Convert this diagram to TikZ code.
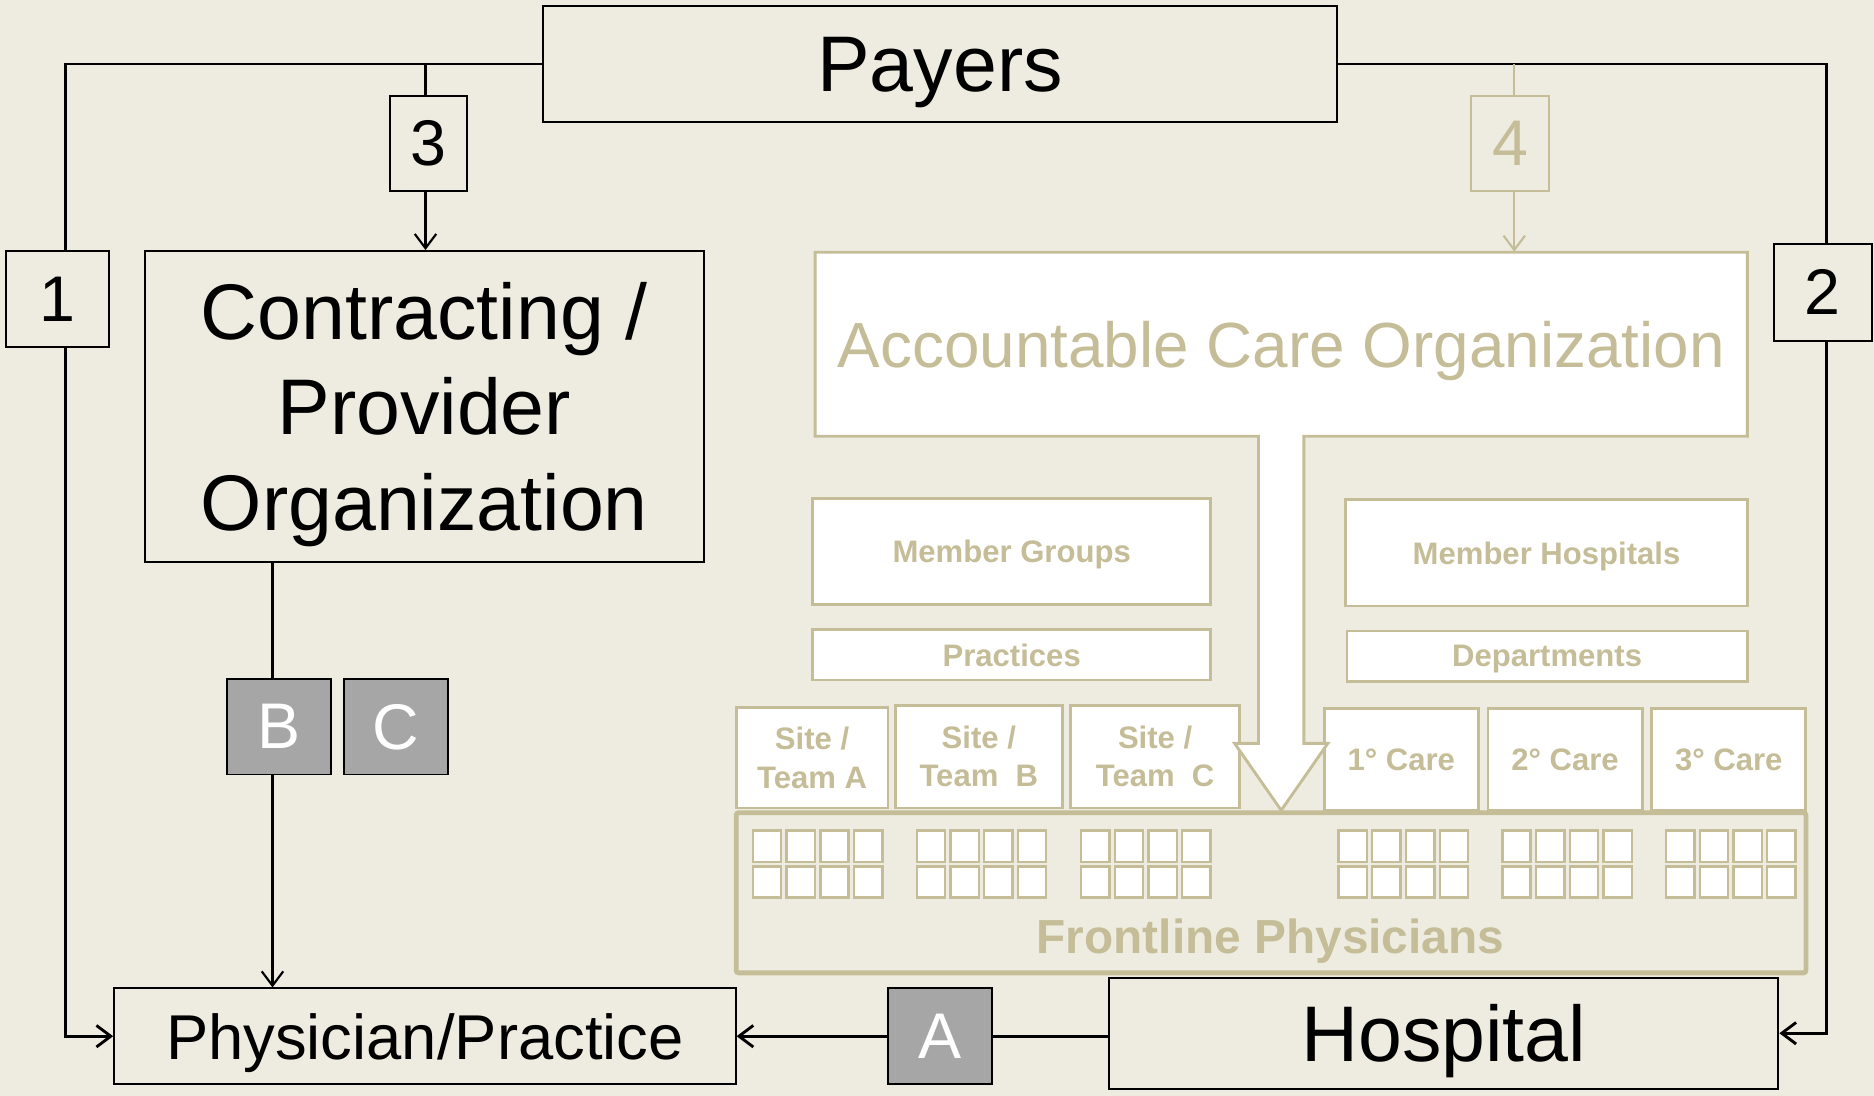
\documentclass[tikz,border=0pt]{standalone}
\usepackage{fontspec}
\setmainfont{Liberation Sans}
\usetikzlibrary{arrows.meta}
\definecolor{bg}{HTML}{EEECE1}
\definecolor{tan}{HTML}{C4BD97}
\definecolor{gr}{HTML}{A6A6A6}
\tikzset{
  every node/.style={text depth=0pt},
  bbox/.style={draw=black, line width=0.8pt, fill=bg, inner sep=0pt, align=center},
  numbox/.style={bbox, font=\fontsize{27}{30}\selectfont},
  letbox/.style={draw=black, line width=0.8pt, fill=gr, text=white, inner sep=0pt,
    font=\fontsize{27}{30}\selectfont, minimum width=43.5pt, minimum height=40pt},
  tanbox/.style={draw=tan, line width=1.2pt, fill=white, text=tan, inner sep=0pt,
    align=center, font=\bfseries\fontsize{13}{16}\selectfont},
  sitebox/.style={tanbox, minimum width=70pt, minimum height=43pt},
  carebox/.style={tanbox, minimum width=64.5pt, minimum height=42.5pt},
  sq/.style={draw=tan, line width=1pt, fill=white, minimum width=11.85pt,
    minimum height=13pt, inner sep=0pt},
  mainln/.style={line width=1.2pt},
  thinln/.style={line width=0.9pt},
  tip/.style={-{Straight Barb[length=6pt,width=9pt]}}
}
\begin{document}
\begin{tikzpicture}[x=0.5pt, y=-0.5pt]
\path[use as bounding box, fill=bg] (0,0) rectangle (1568,917);

% ACO frontline structure
\node[draw=tan, line width=2pt, fill=bg, minimum width=447.5pt, minimum height=67pt,
  rounded corners=1pt] (fl) at (1063.5,747) {};
\node[text=tan, font=\bfseries\fontsize{20}{24}\selectfont] (flt) at (1063,783) {Frontline Physicians};

\node[sitebox, minimum width=63.5pt, minimum height=42pt] (sa) at (679.5,634) {Site /\\Team A};
\node[sitebox] (sb) at (819,633) {Site /\\Team\ \ B};
\node[sitebox, minimum width=70.5pt] (sc) at (966.5,633) {Site /\\Team\ \ C};
\node[carebox] (c1n) at (1172.5,635.5) {1° Care};
\node[carebox] (c2n) at (1309.5,635.5) {2° Care};
\node[carebox] (c3n) at (1446.5,635.5) {3° Care};

\node[tanbox, minimum width=166.5pt, minimum height=44.5pt] (mg) at (846.5,461.5) {Member Groups};
\node[tanbox, minimum width=166.5pt, minimum height=21pt] (pr) at (846.5,548) {Practices};
\node[tanbox, minimum width=168pt, minimum height=44.5pt] (mh) at (1294,462.5) {Member Hospitals};
\node[tanbox, minimum width=167.5pt, minimum height=21pt] (dp) at (1294.5,549) {Departments};

\draw[tan, line width=1.2pt, fill=white, line join=miter]
  (1053,365) -- (682,365) -- (682,211) -- (1462,211) -- (1462,365) -- (1091,365)
  -- (1091,622) -- (1111,622) -- (1072,678) -- (1033,622) -- (1053,622) -- cycle;
\node[text=tan, minimum width=390pt, minimum height=77pt, inner sep=0pt,
  font=\fontsize{26.7}{30}\selectfont] (aco) at (1072,288) {Accountable Care Organization};

\foreach \g/\gx in {1/630,2/767,3/904.5,4/1120,5/1257,6/1394}
  \foreach \i in {0,...,3}
    \foreach \r/\ry in {1/708,2/738}
      \node[sq] (sq-\g-\i-\r) at ({\gx+11.85+28.2*\i},\ry) {};

% main boxes
\node[bbox, minimum width=332.5pt, minimum height=48.5pt,
  font=\fontsize{33}{40}\selectfont] (payers) at (786.5,53.5) {Payers};
\node[bbox, minimum width=234pt, minimum height=130pt,
  font=\fontsize{33}{40}\selectfont] (cpo) at (355,340) {Contracting /\\Provider\\Organization};
\node[bbox, minimum width=260pt, minimum height=40pt,
  font=\fontsize{26.5}{30}\selectfont] (phys) at (355.5,867) {Physician/Practice};
\node[bbox, minimum width=280pt, minimum height=46.5pt,
  font=\fontsize{33}{40}\selectfont] (hosp) at (1208,864.5) {Hospital};

% connectors
\coordinate (k1) at (55,53.5);
\coordinate (k2) at (1528.5,53.5);
\coordinate (k3) at (356,53.5);
\coordinate (k4) at (1267,53.5);
\coordinate (k5) at (228,470);
\draw[mainln, tip] (payers.west) -- (k1) |- (phys.west);
\draw[mainln, tip] (payers.east) -- (k2) |- (hosp.east);
\draw[thinln, tip] (k3) -- (k3 |- cpo.north);
\draw[thinln, tan, tip] (k4) -- (k4 |- aco.north);
\draw[thinln, tip] (k5) -- (k5 |- phys.north);
\draw[mainln, tip] (hosp.west |- phys.east) -- (phys.east);

% label boxes
\node[numbox, minimum width=43pt, minimum height=40pt] (n1) at (48,250) {1};
\node[numbox, minimum width=41pt, minimum height=40.5pt] (n2) at (1525,244.5) {2};
\node[numbox, minimum width=32.5pt, minimum height=40pt] (n3) at (358.5,120) {3};
\node[numbox, draw=tan, text=tan, minimum width=32.5pt, minimum height=40pt] (n4) at (1263.5,120) {4};
\node[letbox] (lb) at (233.5,608) {B};
\node[letbox] (lc) at (331.5,608) {C};
\node[letbox] (la) at (786.5,867) {A};
\end{tikzpicture}
\end{document}
